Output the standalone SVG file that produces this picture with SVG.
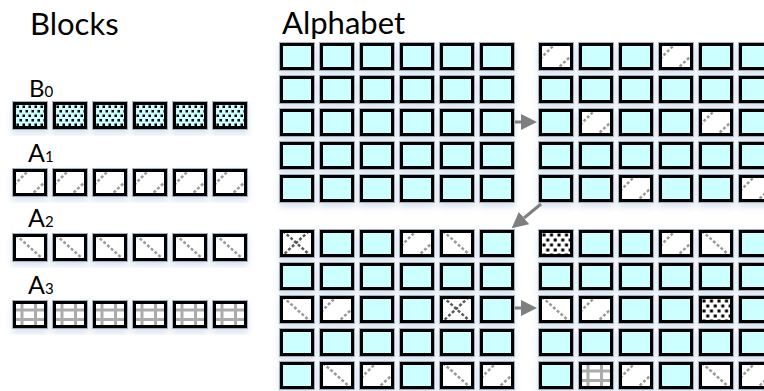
<svg xmlns="http://www.w3.org/2000/svg" xmlns:xlink="http://www.w3.org/1999/xlink" width="764" height="391" viewBox="0 0 764 391">
<style>
.lbl{font-family:Lato,"Open Sans","Liberation Sans",sans-serif;fill:#000}
.o{fill:none;stroke:#a3b1c2;stroke-width:1}
.b{stroke:#000;stroke-width:3}
.nf{fill:none}
.d1{fill:none;stroke:#9a9a9a;stroke-width:2.5;stroke-dasharray:3 2}
.dx{fill:none;stroke:#5a5a5a;stroke-width:2.5;stroke-dasharray:3 2}
.g3{fill:none;stroke:#ababab;stroke-width:3}
.arr{fill:none;stroke:#7f7f7f;stroke-width:3}
</style>
<defs>
<filter id="sh" x="-5%" y="-10%" width="110%" height="130%">
<feDropShadow dx="0" dy="4" stdDeviation="3" flood-color="#a9c0dc" flood-opacity="0.45"/>
</filter>
<pattern id="dotW" patternUnits="userSpaceOnUse" x="4" y="4" width="7.5" height="10">
<rect x="0.5" y="0.5" width="3" height="3" fill="#000"/>
<rect x="4.25" y="5.5" width="3" height="3" fill="#000"/>
</pattern>
<pattern id="dotC" patternUnits="userSpaceOnUse" x="4" y="4" width="6" height="9">
<rect x="0.5" y="0.5" width="2.5" height="2.5" fill="#000"/>
<rect x="3.5" y="5" width="2.5" height="2.5" fill="#000"/>
</pattern>
<clipPath id="ci"><rect x="2.5" y="2.5" width="31" height="24"/></clipPath>
<marker id="ah" markerUnits="userSpaceOnUse" markerWidth="16" markerHeight="16" viewBox="0 0 16 16" refX="0" refY="8" orient="auto">
<path d="M0,0 L16,8 L0,16 z" fill="#7f7f7f"/>
</marker>
<g id="C"><rect class="o" x="0.5" y="0.5" width="35" height="28"/><rect class="b" x="2.5" y="2.5" width="31" height="24" fill="#ccffff"/></g>
<g id="A1"><rect class="o" x="0.5" y="0.5" width="35" height="28"/><rect x="2.5" y="2.5" width="31" height="24" fill="#fff"/>
<g clip-path="url(#ci)"><path class="d1" d="M2,17 L17,2 M18,28 L34,13"/></g>
<rect class="b nf" x="2.5" y="2.5" width="31" height="24"/></g>
<g id="A2"><rect class="o" x="0.5" y="0.5" width="35" height="28"/><rect x="2.5" y="2.5" width="31" height="24" fill="#fff"/>
<g clip-path="url(#ci)"><path class="d1" d="M4,2 L33,28 M29,1 L35,6 M0,24 L5,29"/></g>
<rect class="b nf" x="2.5" y="2.5" width="31" height="24"/></g>
<g id="X"><rect class="o" x="0.5" y="0.5" width="35" height="28"/><rect x="2.5" y="2.5" width="31" height="24" fill="#fff"/>
<g clip-path="url(#ci)"><path class="dx" d="M4,2 L33,28 M29,1 L35,6 M0,24 L5,29 M2,28 L30,2 M30,28 L35,23"/></g>
<rect class="b nf" x="2.5" y="2.5" width="31" height="24"/></g>
<g id="A3"><rect class="o" x="0.5" y="0.5" width="35" height="28"/><rect x="2.5" y="2.5" width="31" height="24" fill="#fff"/>
<g clip-path="url(#ci)"><path class="g3" d="M10,0 V29 M23.5,0 V29 M0,10 H36 M0,19.5 H36"/></g>
<rect class="b nf" x="2.5" y="2.5" width="31" height="24"/></g>
<g id="BW"><rect class="o" x="0.5" y="0.5" width="35" height="28"/><rect x="2.5" y="2.5" width="31" height="24" fill="#fff"/>
<rect x="4" y="4" width="28" height="21" fill="url(#dotW)"/>
<rect class="b nf" x="2.5" y="2.5" width="31" height="24"/></g>
<g id="BC"><rect class="o" x="0.5" y="0.5" width="35" height="28"/><rect x="2.5" y="2.5" width="31" height="24" fill="#ccffff"/>
<rect x="4" y="4" width="28" height="21" fill="url(#dotC)"/>
<rect class="b nf" x="2.5" y="2.5" width="31" height="24"/></g>
</defs>
<rect width="764" height="391" fill="#fff"/>

<g id="titles">
<text class="lbl" x="30" y="35" font-size="31">Blocks</text>
<text class="lbl" x="282" y="34" font-size="31">Alphabet</text>
</g>

<g id="block-B0">
<text class="lbl" x="29" y="97" font-size="24">B<tspan font-size="15">0</tspan></text>
<g filter="url(#sh)">
<use href="#BC" x="12" y="101"/><use href="#BC" x="52" y="101"/><use href="#BC" x="92" y="101"/><use href="#BC" x="132" y="101"/><use href="#BC" x="172" y="101"/><use href="#BC" x="212" y="101"/>
</g></g>
<g id="block-A1">
<text class="lbl" x="28" y="162" font-size="25">A<tspan font-size="15">1</tspan></text>
<g filter="url(#sh)">
<use href="#A1" x="12" y="168"/><use href="#A1" x="52" y="168"/><use href="#A1" x="92" y="168"/><use href="#A1" x="132" y="168"/><use href="#A1" x="172" y="168"/><use href="#A1" x="212" y="168"/>
</g></g>
<g id="block-A2">
<text class="lbl" x="28" y="227" font-size="25">A<tspan font-size="15">2</tspan></text>
<g filter="url(#sh)">
<use href="#A2" x="12" y="233"/><use href="#A2" x="52" y="233"/><use href="#A2" x="92" y="233"/><use href="#A2" x="132" y="233"/><use href="#A2" x="172" y="233"/><use href="#A2" x="212" y="233"/>
</g></g>
<g id="block-A3">
<text class="lbl" x="28" y="294" font-size="25">A<tspan font-size="15">3</tspan></text>
<g filter="url(#sh)">
<use href="#A3" x="12" y="300"/><use href="#A3" x="52" y="300"/><use href="#A3" x="92" y="300"/><use href="#A3" x="132" y="300"/><use href="#A3" x="172" y="300"/><use href="#A3" x="212" y="300"/>
</g></g>

<g id="grid-1" filter="url(#sh)">
<use href="#C" x="279" y="42"/><use href="#C" x="319" y="42"/><use href="#C" x="359" y="42"/><use href="#C" x="399" y="42"/><use href="#C" x="439" y="42"/><use href="#C" x="479" y="42"/>
<use href="#C" x="279" y="75"/><use href="#C" x="319" y="75"/><use href="#C" x="359" y="75"/><use href="#C" x="399" y="75"/><use href="#C" x="439" y="75"/><use href="#C" x="479" y="75"/>
<use href="#C" x="279" y="108"/><use href="#C" x="319" y="108"/><use href="#C" x="359" y="108"/><use href="#C" x="399" y="108"/><use href="#C" x="439" y="108"/><use href="#C" x="479" y="108"/>
<use href="#C" x="279" y="141"/><use href="#C" x="319" y="141"/><use href="#C" x="359" y="141"/><use href="#C" x="399" y="141"/><use href="#C" x="439" y="141"/><use href="#C" x="479" y="141"/>
<use href="#C" x="279" y="174"/><use href="#C" x="319" y="174"/><use href="#C" x="359" y="174"/><use href="#C" x="399" y="174"/><use href="#C" x="439" y="174"/><use href="#C" x="479" y="174"/>
</g>

<g id="grid-2" filter="url(#sh)">
<use href="#A1" x="538" y="42"/><use href="#C" x="578" y="42"/><use href="#C" x="618" y="42"/><use href="#A1" x="658" y="42"/><use href="#C" x="698" y="42"/><use href="#C" x="738" y="42"/>
<use href="#C" x="538" y="75"/><use href="#C" x="578" y="75"/><use href="#C" x="618" y="75"/><use href="#C" x="658" y="75"/><use href="#C" x="698" y="75"/><use href="#C" x="738" y="75"/>
<use href="#C" x="538" y="108"/><use href="#A1" x="578" y="108"/><use href="#C" x="618" y="108"/><use href="#C" x="658" y="108"/><use href="#A1" x="698" y="108"/><use href="#C" x="738" y="108"/>
<use href="#C" x="538" y="141"/><use href="#C" x="578" y="141"/><use href="#C" x="618" y="141"/><use href="#C" x="658" y="141"/><use href="#C" x="698" y="141"/><use href="#C" x="738" y="141"/>
<use href="#C" x="538" y="174"/><use href="#C" x="578" y="174"/><use href="#A1" x="618" y="174"/><use href="#C" x="658" y="174"/><use href="#C" x="698" y="174"/><use href="#A1" x="738" y="174"/>
</g>

<g id="grid-3" filter="url(#sh)">
<use href="#X" x="279" y="229"/><use href="#C" x="319" y="229"/><use href="#C" x="359" y="229"/><use href="#A1" x="399" y="229"/><use href="#A2" x="439" y="229"/><use href="#C" x="479" y="229"/>
<use href="#C" x="279" y="262"/><use href="#C" x="319" y="262"/><use href="#C" x="359" y="262"/><use href="#C" x="399" y="262"/><use href="#C" x="439" y="262"/><use href="#C" x="479" y="262"/>
<use href="#A2" x="279" y="295"/><use href="#A1" x="319" y="295"/><use href="#C" x="359" y="295"/><use href="#C" x="399" y="295"/><use href="#X" x="439" y="295"/><use href="#C" x="479" y="295"/>
<use href="#C" x="279" y="328"/><use href="#C" x="319" y="328"/><use href="#C" x="359" y="328"/><use href="#C" x="399" y="328"/><use href="#C" x="439" y="328"/><use href="#C" x="479" y="328"/>
<use href="#C" x="279" y="361"/><use href="#A2" x="319" y="361"/><use href="#A1" x="359" y="361"/><use href="#C" x="399" y="361"/><use href="#A2" x="439" y="361"/><use href="#A1" x="479" y="361"/>
</g>

<g id="grid-4" filter="url(#sh)">
<use href="#BW" x="538" y="229"/><use href="#C" x="578" y="229"/><use href="#C" x="618" y="229"/><use href="#A1" x="658" y="229"/><use href="#A2" x="698" y="229"/><use href="#C" x="738" y="229"/>
<use href="#C" x="538" y="262"/><use href="#C" x="578" y="262"/><use href="#C" x="618" y="262"/><use href="#C" x="658" y="262"/><use href="#C" x="698" y="262"/><use href="#C" x="738" y="262"/>
<use href="#A2" x="538" y="295"/><use href="#A1" x="578" y="295"/><use href="#C" x="618" y="295"/><use href="#C" x="658" y="295"/><use href="#BW" x="698" y="295"/><use href="#C" x="738" y="295"/>
<use href="#C" x="538" y="328"/><use href="#C" x="578" y="328"/><use href="#C" x="618" y="328"/><use href="#C" x="658" y="328"/><use href="#C" x="698" y="328"/><use href="#C" x="738" y="328"/>
<use href="#C" x="538" y="361"/><use href="#A3" x="578" y="361"/><use href="#A1" x="618" y="361"/><use href="#C" x="658" y="361"/><use href="#A2" x="698" y="361"/><use href="#A1" x="738" y="361"/>
</g>

<g id="connectors">
<path class="arr" d="M515,122 L521,122" marker-end="url(#ah)"/>
<path class="arr" d="M541,204 L524,218" marker-end="url(#ah)"/>
<path class="arr" d="M515,308 L521,308" marker-end="url(#ah)"/>
</g>
</svg>
